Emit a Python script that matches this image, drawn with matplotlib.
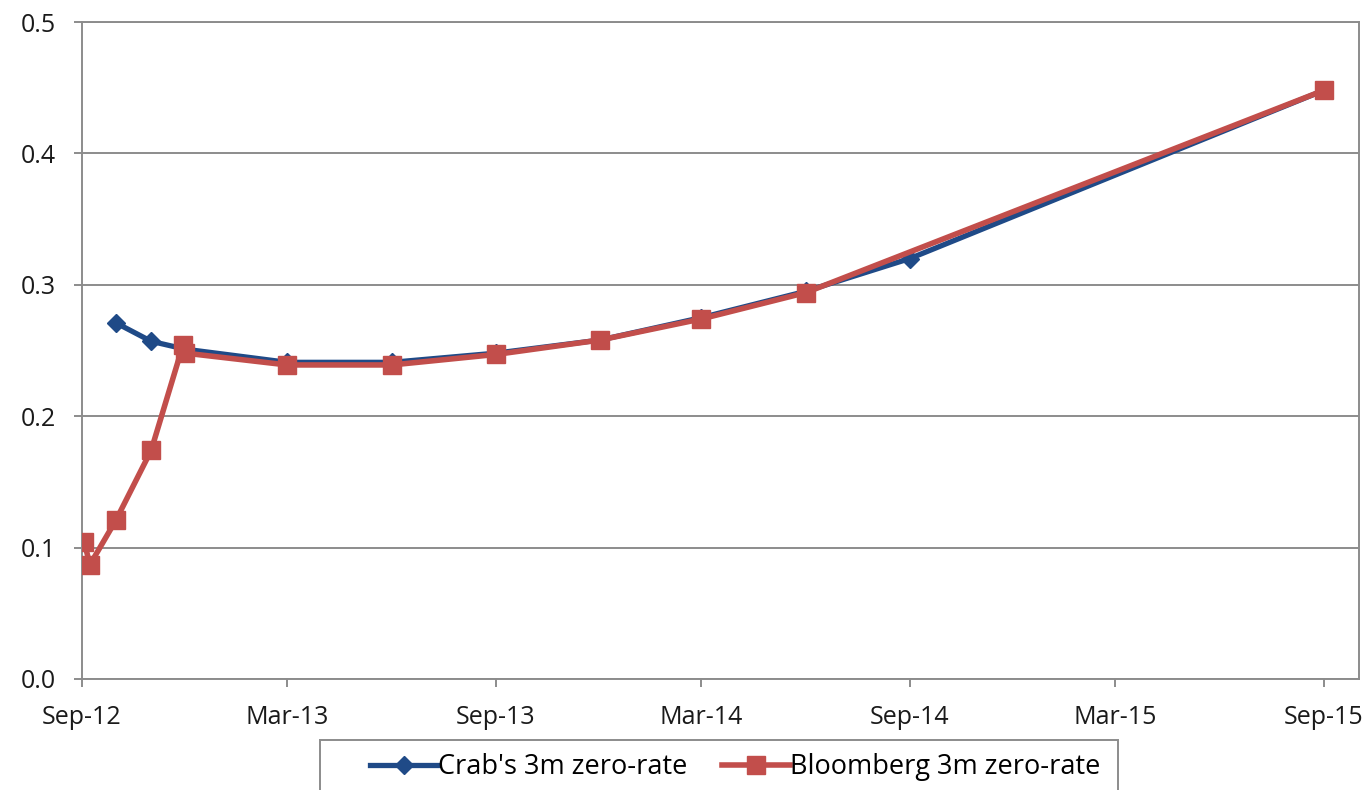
import matplotlib.pyplot as plt
from matplotlib.patches import Rectangle
import numpy as np
import datetime as dt

plt.rcParams['font.family'] = ['Open Sans', 'DejaVu Sans']

BASE = dt.date(2012, 9, 1)

# curve points: days from base date and zero rates (%)
crab_days = [30, 61, 91, 181, 273, 365, 457, 546, 638, 730, 1095]
crab_rates = [0.271, 0.257, 0.251, 0.241, 0.241, 0.248, 0.258, 0.275, 0.295, 0.320, 0.448]

bbg_days = [2, 7, 30, 61, 89, 91, 181, 273, 365, 457, 546, 638, 1095]
bbg_rates = [0.104, 0.087, 0.121, 0.174, 0.254, 0.248, 0.239, 0.239, 0.247, 0.258, 0.274, 0.294, 0.448]

tick_labels = ['Sep-12', 'Mar-13', 'Sep-13', 'Mar-14', 'Sep-14', 'Mar-15', 'Sep-15']

W, H = 1368, 790


def toDates(days):
    return [BASE + dt.timedelta(days=d) for d in days]


def sixMonthTicks(n):
    ticks = []
    for i in range(n):
        m = 9 + 6 * i
        ticks.append(dt.date(2012 + (m - 1) // 12, (m - 1) % 12 + 1, 1))
    return ticks


fig = plt.figure(figsize=(W / 100, H / 100), dpi=100)
ax = fig.add_axes([82 / W, 1 - 679 / H, (1359 - 82) / W, (679 - 22) / H])

ax.plot(toDates(crab_days), crab_rates, color='#1F4A87', lw=3.8, marker='D',
        markersize=9, label="Crab's 3m zero-rate", zorder=3)
ax.plot(toDates(bbg_days), bbg_rates, color='#C24E4B', lw=4, marker='s',
        markersize=13.5, label='Bloomberg 3m zero-rate', zorder=4)

ax.set_xlim(BASE, BASE + dt.timedelta(days=1126))
ax.set_ylim(0, 0.5)
ax.set_xticks(sixMonthTicks(len(tick_labels)))
ax.set_xticklabels(tick_labels)
ax.set_yticks(np.arange(0, 0.51, 0.1))
ax.yaxis.set_major_formatter(plt.FuncFormatter(lambda v, p: '{:.1f}'.format(v)))

ax.grid(axis='y', color='#8C8C8C', lw=1.4)
ax.set_axisbelow(True)
for side in ax.spines.values():
    side.set_color('#8C8C8C')
    side.set_linewidth(1.4)
ax.tick_params(axis='both', colors='#8C8C8C', width=1.4, length=6, labelsize=18,
               labelcolor='#1A1A1A')
ax.tick_params(axis='x', pad=13)
ax.tick_params(axis='y', pad=13)

# legend box runs off the bottom edge, so draw the frame by hand
fig.patches.append(Rectangle((320 / W, -0.05), (1118 - 320) / W, 0.05 + 1 - 740 / H,
                             transform=fig.transFigure, facecolor='white',
                             edgecolor='#8C8C8C', lw=1.4))
leg = fig.legend(loc='center left', bbox_to_anchor=(370 / W, 1 - 767 / H),
                 ncol=2, fontsize=19.5, frameon=False,
                 handlelength=2.5, handletextpad=0.0, columnspacing=1.3,
                 borderpad=0, borderaxespad=0)

plt.savefig('out.png', dpi=100)
